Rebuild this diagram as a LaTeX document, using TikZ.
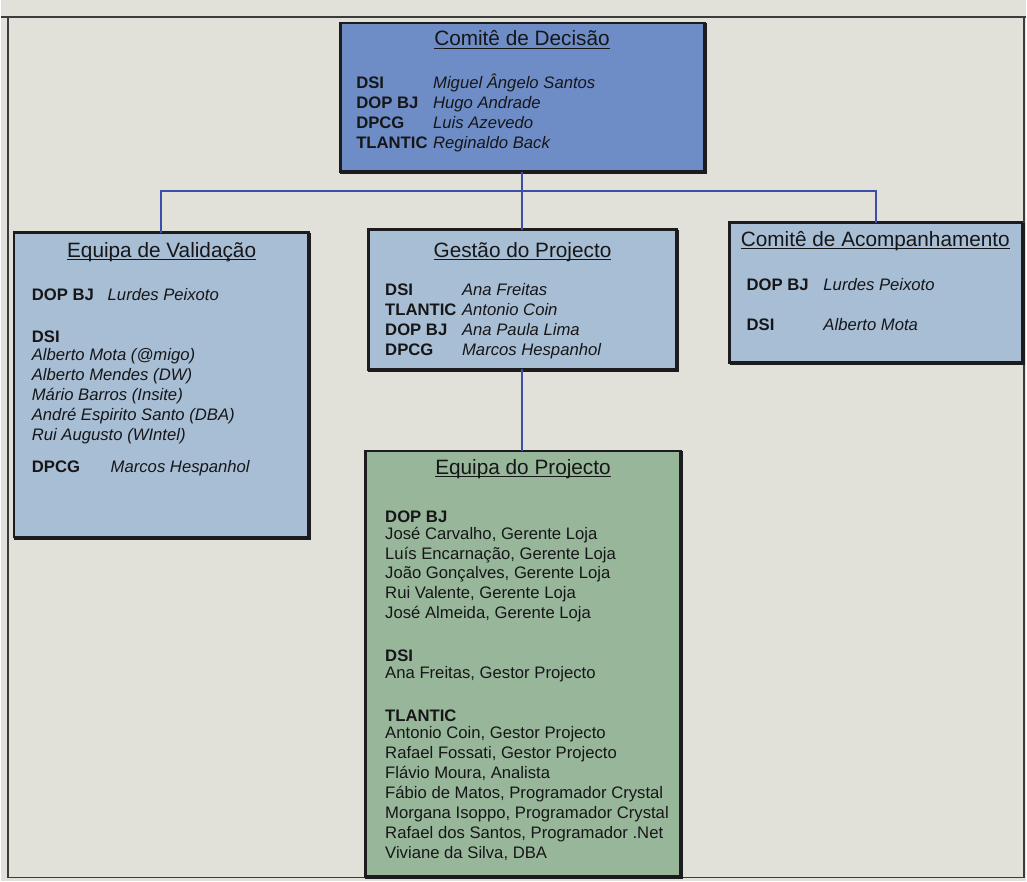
\documentclass[tikz,border=0pt]{standalone}
\usepackage{fontspec}
\setmainfont{Liberation Sans}
\definecolor{paper}{RGB}{226,225,217}
\definecolor{frameline}{RGB}{60,60,60}
\definecolor{boxline}{RGB}{28,28,30}
\definecolor{ink}{RGB}{22,22,24}
\definecolor{decfill}{RGB}{110,141,198}
\definecolor{grpfill}{RGB}{168,190,212}
\definecolor{teamfill}{RGB}{152,183,154}
\definecolor{linkblue}{RGB}{58,78,170}
\begin{document}
\begin{tikzpicture}[x=1pt,y=-1pt,
  every node/.style={inner sep=0pt, outer sep=0pt, text=ink},
  orgbox/.style={draw=boxline, line width=2.5pt, anchor=north west,
    preaction={draw=boxline, line width=2.5pt,
      transform canvas={shift={(1.2pt,-1.2pt)}}}},
  title/.style={anchor=base, font=\fontsize{20.8}{24}\selectfont},
  uline/.style={draw=ink, line width=1.2pt},
  lab/.style={anchor=base west, font=\bfseries\fontsize{16.7}{20}\selectfont},
  nm/.style={anchor=base west, font=\itshape\fontsize{16.7}{20}\selectfont},
  pl/.style={anchor=base west, font=\fontsize{16.7}{20}\selectfont},
  conn/.style={draw=linkblue, line width=2pt}]

% page background and outer frame
\fill[paper] (0,0) rectangle (1027,883);
\draw[frameline, line width=1.8pt] (7,17) rectangle (1025,879);
\draw[frameline, line width=1.8pt] (0,17) -- (1027,17);

% boxes
\node[orgbox, fill=decfill, minimum width=365pt, minimum height=149pt] (dec) at (340,23) {};
\node[orgbox, fill=grpfill, minimum width=295pt, minimum height=305pt] (val) at (13,233) {};
\node[orgbox, fill=grpfill, minimum width=309pt, minimum height=140pt] (gest) at (368,230) {};
\node[orgbox, fill=grpfill, minimum width=293pt, minimum height=140pt] (acomp) at (730,223) {};
\node[orgbox, fill=teamfill, minimum width=316pt, minimum height=426pt] (proj) at (365,452) {};

% connectors
\coordinate (bar) at (522.5,191);
\draw[conn] (dec.south) -- (bar);
\draw[conn] (val.north) -- (val.north |- bar) -- (acomp.north |- bar) -- (acomp.north);
\draw[conn] (bar) -- (gest.north);
\draw[conn] (gest.south) -- (gest.south |- proj.north);

% Comite de Decisao
\node[title] (tdec) at (522,46) {Comitê de Decisão};
\draw[uline] ([yshift=-2.2pt]tdec.base west) -- ([yshift=-2.2pt]tdec.base east);
\node[lab] (d1) at (356,89) {DSI};
\node[lab] (d2) at (356,109) {DOP BJ};
\node[lab] (d3) at (356,129) {DPCG};
\node[lab] (d4) at (356,149) {TLANTIC};
\node[nm] (dn1) at (433,89) {Miguel Ângelo Santos};
\node[nm] (dn2) at (433,109) {Hugo Andrade};
\node[nm] (dn3) at (433,129) {Luis Azevedo};
\node[nm] (dn4) at (433,149) {Reginaldo Back};

% Equipa de Validacao
\node[title] (tval) at (161,258) {Equipa de Validação};
\draw[uline] ([yshift=-2.2pt]tval.base west) -- ([yshift=-2.2pt]tval.base east);
\node[lab] (v1) at (31,301) {DOP BJ};
\node[nm] (vn1) at (107,301) {Lurdes Peixoto};
\node[lab] (v2) at (31,343) {DSI};
\node[nm] (vn2) at (31,361) {Alberto Mota (@migo)};
\node[nm] (vn3) at (31,381) {Alberto Mendes (DW)};
\node[nm] (vn4) at (31,401) {Mário Barros (Insite)};
\node[nm] (vn5) at (31,421) {André Espirito Santo (DBA)};
\node[nm] (vn6) at (31,441) {Rui Augusto (WIntel)};
\node[lab] (v3) at (31,473) {DPCG};
\node[nm] (vn7) at (110,473) {Marcos Hespanhol};

% Gestao do Projecto
\node[title] (tgest) at (522.5,258) {Gestão do Projecto};
\draw[uline] ([yshift=-2.2pt]tgest.base west) -- ([yshift=-2.2pt]tgest.base east);
\node[lab] (g1) at (385,296) {DSI};
\node[lab] (g2) at (385,316) {TLANTIC};
\node[lab] (g3) at (385,336) {DOP BJ};
\node[lab] (g4) at (385,356) {DPCG};
\node[nm] (gn1) at (462,296) {Ana Freitas};
\node[nm] (gn2) at (462,316) {Antonio Coin};
\node[nm] (gn3) at (462,336) {Ana Paula Lima};
\node[nm] (gn4) at (462,356) {Marcos Hespanhol};

% Comite de Acompanhamento
\node[title] (tacomp) at (876,247) {Comitê de Acompanhamento};
\draw[uline] ([yshift=-2.2pt]tacomp.base west) -- ([yshift=-2.2pt]tacomp.base east);
\node[lab] (a1) at (747,291) {DOP BJ};
\node[nm] (an1) at (824,291) {Lurdes Peixoto};
\node[lab] (a2) at (747,331) {DSI};
\node[nm] (an2) at (824,331) {Alberto Mota};

% Equipa do Projecto
\node[title] (tproj) at (523,475) {Equipa do Projecto};
\draw[uline] ([yshift=-2.2pt]tproj.base west) -- ([yshift=-2.2pt]tproj.base east);
\node[lab] (p1) at (385,523) {DOP BJ};
\node[pl] (pn1) at (385,540) {José Carvalho, Gerente Loja};
\node[pl] (pn2) at (385,560) {Luís Encarnação, Gerente Loja};
\node[pl] (pn3) at (385,580) {João Gonçalves, Gerente Loja};
\node[pl] (pn4) at (385,600) {Rui Valente, Gerente Loja};
\node[pl] (pn5) at (385,620) {José Almeida, Gerente Loja};
\node[lab] (p2) at (385,663) {DSI};
\node[pl] (pn6) at (385,680) {Ana Freitas, Gestor Projecto};
\node[lab] (p3) at (385,723) {TLANTIC};
\node[pl] (pn7) at (385,740) {Antonio Coin, Gestor Projecto};
\node[pl] (pn8) at (385,760) {Rafael Fossati, Gestor Projecto};
\node[pl] (pn9) at (385,780) {Flávio Moura, Analista};
\node[pl] (pn10) at (385,800) {Fábio de Matos, Programador Crystal};
\node[pl] (pn11) at (385,820) {Morgana Isoppo, Programador Crystal};
\node[pl] (pn12) at (385,840) {Rafael dos Santos, Programador .Net};
\node[pl] (pn13) at (385,860) {Viviane da Silva, DBA};
\end{tikzpicture}
\end{document}
